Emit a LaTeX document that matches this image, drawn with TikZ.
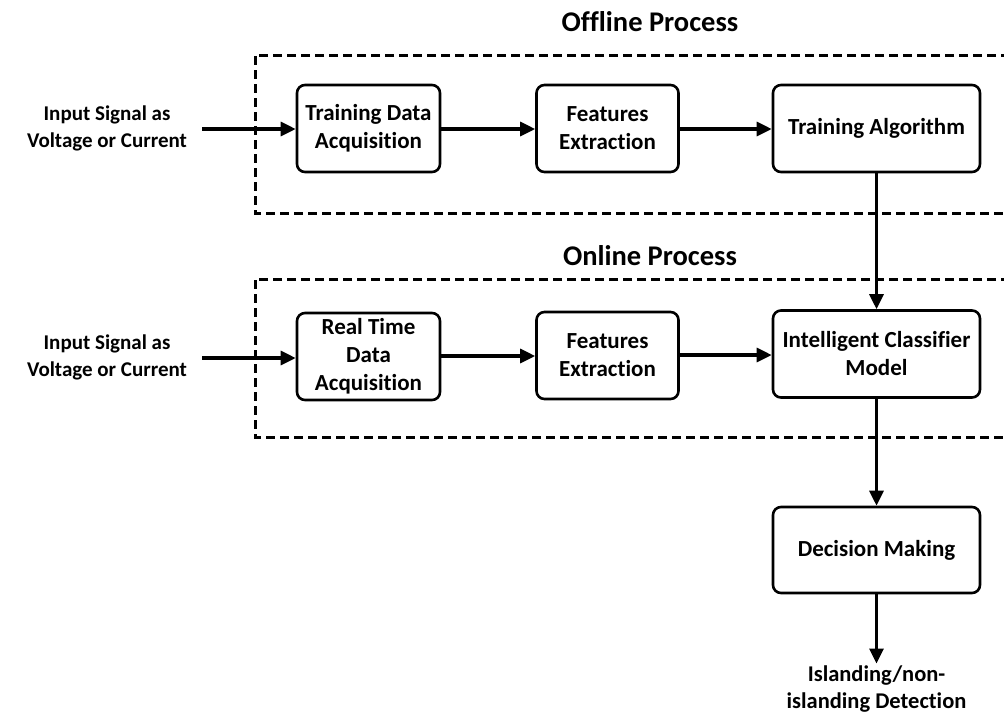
\documentclass[tikz,border=0pt]{standalone}
\usepackage{fontspec}
\setmainfont{Carlito}[Ligatures=NoCommon]
\usetikzlibrary{arrows.meta}
\tikzset{
  block/.style={draw, line width=2.6pt, rounded corners=8pt, align=center,
    inner sep=2pt, font=\bfseries\fontsize{23}{28}\selectfont},
  label/.style={align=center, inner sep=0pt, font=\bfseries\fontsize{21}{27}\selectfont},
  outlabel/.style={align=center, inner sep=0pt, font=\bfseries\fontsize{22.5}{27}\selectfont},
  title/.style={inner sep=0pt, font=\bfseries\fontsize{28.5}{32}\selectfont},
  flow/.style={line width=3.2pt, -{Triangle[length=15pt,width=14pt]}},
  group/.style={line width=3pt, dash pattern=on 9pt off 5pt}
}
\begin{document}
\begin{tikzpicture}[x=1pt,y=-1pt]
\clip (0,0) rectangle (1004,716);
\fill[white] (0,0) rectangle (1004,716);

% process groups (open on the right)
\draw[group] (1010,55) -- (255,55) -- (255,213) -- (1010,213);
\draw[group] (1010,279) -- (255,279) -- (255,437) -- (1010,437);
\node[title] (toff) at (650,22) {Offline Process};
\node[title] (ton) at (650,256) {Online Process};

% offline row
\node[label] (in1) at (107,128) {Input Signal as\\Voltage or Current};
\node[block, minimum width=143pt, minimum height=87pt] (tda) at (368.5,128.5) {Training Data\\Acquisition};
\node[block, minimum width=142pt, minimum height=87pt] (fe1) at (607.5,128.5) {Features\\Extraction};
\node[block, minimum width=207pt, minimum height=87pt] (ta) at (876.5,128.5) {Training Algorithm};

% online row
\node[label] (in2) at (107,357) {Input Signal as\\Voltage or Current};
\node[block, minimum width=143pt, minimum height=87pt] (rtda) at (368.5,356.5) {Real Time\\Data\\Acquisition};
\node[block, minimum width=142pt, minimum height=87pt] (fe2) at (607.5,355.5) {Features\\Extraction};
\node[block, minimum width=207pt, minimum height=87pt] (icm) at (876.5,354) {Intelligent Classifier\\Model};

% decision
\node[block, minimum width=207pt, minimum height=86pt] (dm) at (876.5,550) {Decision Making};
\node[outlabel] (out) at (876.5,689) {Islanding/non-\\islanding Detection};

% connectors
\coordinate (s1) at (202,129);
\coordinate (s2) at (202,358);
\draw[flow] (s1) -- (tda.west |- s1);
\draw[flow] (tda.east |- 0,129) -- (fe1.west |- 0,129);
\draw[flow] (fe1.east |- 0,129) -- (ta.west |- 0,129);
\draw[flow] (s2) -- (rtda.west |- s2);
\draw[flow] (rtda.east |- 0,356) -- (fe2.west |- 0,356);
\draw[flow] (fe2.east |- 0,355) -- (icm.west |- 0,355);
\draw[flow] (ta.south) -- (icm.north);
\draw[flow] (icm.south) -- (dm.north);
\draw[flow] (dm.south) -- ([yshift=2pt]out.north);
\end{tikzpicture}
\end{document}
